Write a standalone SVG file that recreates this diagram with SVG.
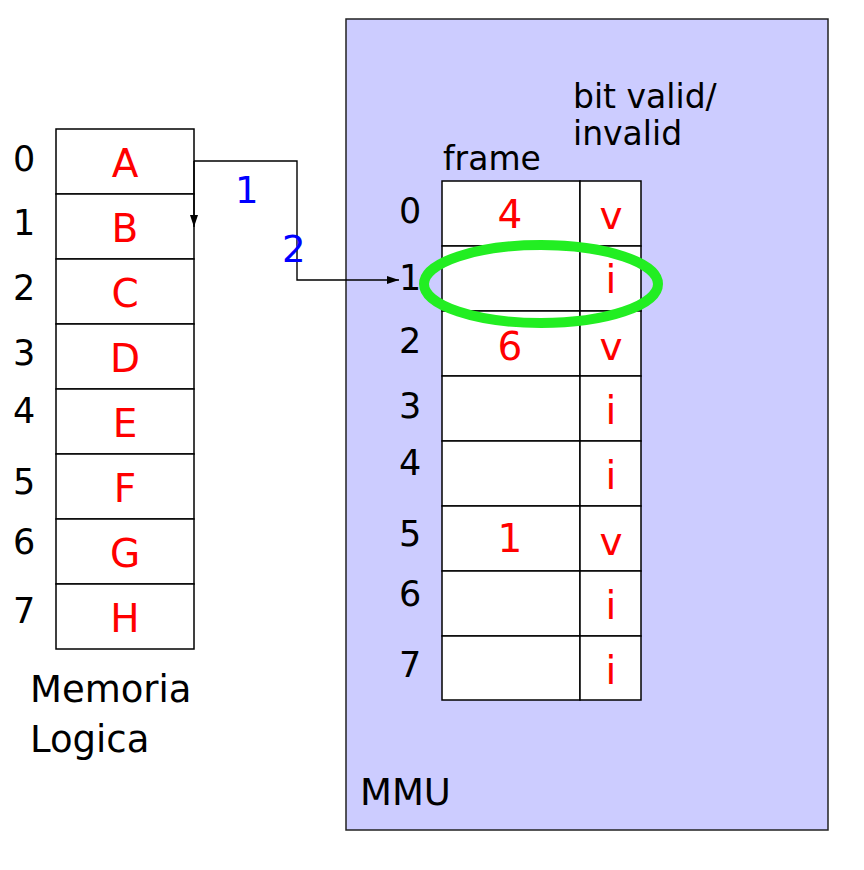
<svg xmlns="http://www.w3.org/2000/svg" width="864" height="870" viewBox="0 0 864 870">
<style>
text{font-family:"DejaVu Sans","Liberation Sans",sans-serif;}
.idx{font-size:35px;fill:#000;}
.val{font-size:39px;fill:#ff0000;text-anchor:middle;}
.lbl{font-size:33px;fill:#000;}
.num{font-size:37px;fill:#0000ff;}
.cell{fill:#fff;stroke:#000;stroke-width:1.5;}
.conn{fill:none;stroke:#000;stroke-width:1.4;}
</style>
<defs>
<marker id="ah" markerWidth="12" markerHeight="8" refX="12" refY="4" orient="auto" markerUnits="userSpaceOnUse">
<path d="M0,0 L12,4 L0,8 z" fill="#000"/>
</marker>
</defs>
<rect width="864" height="870" fill="#fff"/>
<g id="mmu">
<rect x="346" y="19" width="482" height="811" fill="#ccccff" stroke="#222" stroke-width="1.5"/>
<text class="lbl" x="360" y="805" style="font-size:37px">MMU</text>
<text class="lbl" x="443" y="170">frame</text>
<text class="lbl" x="573" y="108">bit valid/</text>
<text class="lbl" x="573" y="145">invalid</text>
</g>
<g id="memoria-logica">
<rect class="cell" x="56" y="129" width="138" height="65"/>
<rect class="cell" x="56" y="194" width="138" height="65"/>
<rect class="cell" x="56" y="259" width="138" height="65"/>
<rect class="cell" x="56" y="324" width="138" height="65"/>
<rect class="cell" x="56" y="389" width="138" height="65"/>
<rect class="cell" x="56" y="454" width="138" height="65"/>
<rect class="cell" x="56" y="519" width="138" height="65"/>
<rect class="cell" x="56" y="584" width="138" height="65"/>
<text class="val" x="125" y="177">A</text>
<text class="val" x="125" y="242">B</text>
<text class="val" x="125" y="307">C</text>
<text class="val" x="125" y="372">D</text>
<text class="val" x="125" y="437">E</text>
<text class="val" x="125" y="502">F</text>
<text class="val" x="125" y="567">G</text>
<text class="val" x="125" y="632">H</text>
<text class="idx" x="13" y="171">0</text>
<text class="idx" x="13" y="235">1</text>
<text class="idx" x="13" y="300">2</text>
<text class="idx" x="13" y="365">3</text>
<text class="idx" x="13" y="423">4</text>
<text class="idx" x="13" y="494">5</text>
<text class="idx" x="13" y="554">6</text>
<text class="idx" x="13" y="623">7</text>
<text class="lbl" x="30" y="702" style="font-size:37px">Memoria</text>
<text class="lbl" x="30" y="752" style="font-size:37px">Logica</text>
</g>
<g id="page-table">
<rect class="cell" x="442" y="181" width="138" height="65"/>
<rect class="cell" x="580" y="181" width="61" height="65"/>
<rect class="cell" x="442" y="246" width="138" height="65"/>
<rect class="cell" x="580" y="246" width="61" height="65"/>
<rect class="cell" x="442" y="311" width="138" height="65"/>
<rect class="cell" x="580" y="311" width="61" height="65"/>
<rect class="cell" x="442" y="376" width="138" height="65"/>
<rect class="cell" x="580" y="376" width="61" height="65"/>
<rect class="cell" x="442" y="441" width="138" height="65"/>
<rect class="cell" x="580" y="441" width="61" height="65"/>
<rect class="cell" x="442" y="506" width="138" height="65"/>
<rect class="cell" x="580" y="506" width="61" height="65"/>
<rect class="cell" x="442" y="571" width="138" height="65"/>
<rect class="cell" x="580" y="571" width="61" height="65"/>
<rect class="cell" x="442" y="636" width="138" height="64"/>
<rect class="cell" x="580" y="636" width="61" height="64"/>
<text class="val" x="510" y="228">4</text>
<text class="val" x="510" y="360">6</text>
<text class="val" x="510" y="552">1</text>
<text class="val" x="611" y="229">v</text>
<text class="val" x="611" y="293">i</text>
<text class="val" x="611" y="360">v</text>
<text class="val" x="611" y="424">i</text>
<text class="val" x="611" y="489">i</text>
<text class="val" x="611" y="555">v</text>
<text class="val" x="611" y="619">i</text>
<text class="val" x="611" y="684">i</text>
<text class="idx" x="399" y="223">0</text>
<text class="idx" x="399" y="290">1</text>
<text class="idx" x="399" y="353">2</text>
<text class="idx" x="399" y="418">3</text>
<text class="idx" x="399" y="475">4</text>
<text class="idx" x="399" y="546">5</text>
<text class="idx" x="399" y="606">6</text>
<text class="idx" x="399" y="677">7</text>
</g>
<g id="connectors">
<path class="conn" d="M194,161 L297,161 L297,280 L399,280" marker-end="url(#ah)"/>
<path class="conn" d="M194,161 L194,227" marker-end="url(#ah)"/>
<text class="num" x="235" y="203">1</text>
<text class="num" x="282" y="262">2</text>
</g>
<g id="highlight">
<ellipse cx="541" cy="284" rx="117" ry="39" fill="none" stroke="#22ee22" stroke-width="10"/>
</g>
</svg>
